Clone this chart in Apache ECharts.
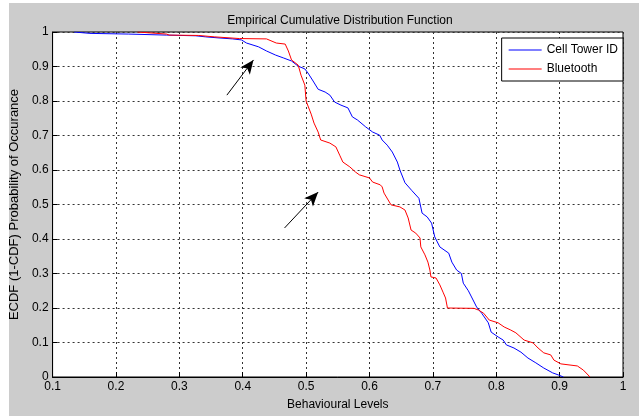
<!DOCTYPE html>
<html lang="en">
<head>
    <meta charset="UTF-8">
    <title>ECDF</title>
    <script type="text/javascript" src="https://cdn.jsdelivr.net/npm/echarts@6/dist/echarts.min.js"></script>
    <style>
        html, body { margin: 0; padding: 0; background: #fff; }
        #chart { width: 639px; height: 416px; }
    </style>
</head>
<body>
<div id="chart"></div>
<script type="text/javascript">
    // Cell Tower ID curve
    var cellX = [0.134, 0.159, 0.22, 0.28, 0.326, 0.341, 0.361, 0.384, 0.398, 0.406, 0.425, 0.4375, 0.452, 0.464,
        0.477, 0.4875, 0.498, 0.503, 0.511, 0.519, 0.530, 0.5375, 0.545, 0.555, 0.566, 0.573, 0.581, 0.594, 0.605,
        0.616, 0.620, 0.628, 0.636, 0.644, 0.648, 0.656, 0.667, 0.678, 0.683, 0.691, 0.698, 0.703, 0.711, 0.725,
        0.730, 0.7375, 0.745, 0.748, 0.756, 0.761, 0.769, 0.777, 0.7875, 0.792, 0.803, 0.811, 0.816, 0.828, 0.839,
        0.85, 0.8625, 0.875, 0.889, 0.898, 0.906];
    var cellY = [1.0, 0.996, 0.994, 0.991, 0.989, 0.986, 0.983, 0.980, 0.977, 0.968, 0.957, 0.945, 0.933, 0.925,
        0.916, 0.901, 0.893, 0.881, 0.858, 0.834, 0.826, 0.817, 0.797, 0.788, 0.780, 0.754, 0.745, 0.725, 0.710,
        0.701, 0.687, 0.672, 0.652, 0.623, 0.600, 0.563, 0.540, 0.518, 0.475, 0.464, 0.446, 0.406, 0.377, 0.359,
        0.333, 0.310, 0.300, 0.272, 0.250, 0.232, 0.203, 0.185, 0.157, 0.130, 0.116, 0.107, 0.093, 0.084, 0.072,
        0.055, 0.041, 0.026, 0.012, 0.006, 0.0];

    // Bluetooth curve
    var btX = [0.234, 0.236, 0.28, 0.284, 0.33, 0.355, 0.395, 0.4375, 0.453, 0.467, 0.472, 0.477, 0.4875, 0.492,
        0.498, 0.5, 0.508, 0.5125, 0.519, 0.523, 0.5375, 0.547, 0.553, 0.558, 0.569, 0.578, 0.584, 0.6, 0.605,
        0.617, 0.62, 0.623, 0.634, 0.648, 0.656, 0.661, 0.6656, 0.673, 0.6797, 0.681, 0.6875, 0.6922, 0.6953,
        0.697, 0.705, 0.711, 0.716, 0.72, 0.723, 0.765, 0.772, 0.78, 0.789, 0.803, 0.8125, 0.823, 0.831, 0.844,
        0.858, 0.866, 0.875, 0.886, 0.891, 0.902, 0.928, 0.9375, 0.948];
    var btY = [1.0, 0.997, 0.994, 0.991, 0.990, 0.986, 0.981, 0.980, 0.968, 0.965, 0.945, 0.919, 0.904, 0.875,
        0.846, 0.800, 0.762, 0.736, 0.710, 0.687, 0.678, 0.667, 0.643, 0.623, 0.609, 0.594, 0.586, 0.577, 0.565,
        0.557, 0.551, 0.533, 0.499, 0.493, 0.484, 0.461, 0.426, 0.417, 0.403, 0.377, 0.354, 0.333, 0.310,
        0.290, 0.287, 0.267, 0.246, 0.229, 0.200, 0.199, 0.194, 0.185, 0.165, 0.157, 0.145, 0.136, 0.128, 0.107,
        0.099, 0.084, 0.070, 0.064, 0.049, 0.038, 0.032, 0.020, 0.0];

    // annotation arrows: [tailX, tailY, tipX, tipY]
    var arrow1 = [0.375, 0.817, 0.417, 0.919];
    var arrow2 = [0.466, 0.432, 0.519, 0.536];

    var fontName = '"Liberation Sans", Arial, sans-serif';

    function pairs(xs, ys) {
        var out = [];
        for (var i = 0; i < xs.length; i++) {
            out.push([xs[i], ys[i]]);
        }
        return out;
    }

    function arrowLine(a) {
        return [{coord: [a[0], a[1]]}, {coord: [a[2], a[3]]}];
    }

    function draw() {
        var mychart = echarts.init(document.getElementById("chart"));
        var option = {
            animation: false,
            textStyle: {fontFamily: fontName, color: '#000'},
            graphic: [{
                type: 'rect',
                z: -10,
                silent: true,
                shape: {x: 9, y: 3, width: 630, height: 413},
                style: {fill: '#cccccc'}
            }],
            title: {
                text: 'Empirical Cumulative Distribution Function',
                left: 335,
                textAlign: 'center',
                top: 10,
                textStyle: {fontSize: 12, fontWeight: 'normal', color: '#000', fontFamily: fontName}
            },
            legend: {
                orient: 'vertical',
                right: 16,
                top: 38,
                backgroundColor: '#fff',
                borderColor: '#000',
                borderWidth: 1,
                borderRadius: 0,
                padding: [6, 5, 6, 7],
                icon: 'rect',
                itemWidth: 33,
                itemHeight: 1,
                itemGap: 7,
                textStyle: {fontSize: 12, color: '#000', fontFamily: fontName},
                data: ['Cell Tower ID', 'Bluetooth']
            },
            grid: {
                left: 47,
                right: 16,
                top: 32,
                bottom: 39,
                show: true,
                backgroundColor: '#fff',
                borderColor: '#000',
                borderWidth: 1
            },
            xAxis: {
                type: 'value',
                min: 0.1,
                max: 1,
                interval: 0.1,
                name: 'Behavioural Levels',
                nameLocation: 'middle',
                nameGap: 22,
                nameTextStyle: {fontSize: 12, color: '#000', fontFamily: fontName},
                axisLine: {lineStyle: {color: '#000'}},
                axisTick: {inside: true, length: 5, lineStyle: {color: '#000'}},
                axisLabel: {fontSize: 12, color: '#000', margin: 4, fontFamily: fontName},
                splitLine: {show: true, lineStyle: {color: '#333', type: [2, 3], width: 1}}
            },
            yAxis: {
                type: 'value',
                min: 0,
                max: 1,
                interval: 0.1,
                name: 'ECDF (1-CDF) Probability of Occurance',
                nameLocation: 'middle',
                nameGap: 29,
                nameTextStyle: {fontSize: 13, color: '#000', fontFamily: fontName},
                axisLine: {show: true, lineStyle: {color: '#000'}},
                axisTick: {show: true, inside: true, length: 5, lineStyle: {color: '#000'}},
                axisLabel: {fontSize: 12, color: '#000', margin: 4, fontFamily: fontName},
                splitLine: {show: true, lineStyle: {color: '#333', type: [2, 3], width: 1}}
            },
            series: [{
                name: 'Cell Tower ID',
                type: 'line',
                symbol: 'none',
                color: '#0000ff',
                lineStyle: {width: 1, color: '#0000ff'},
                data: pairs(cellX, cellY),
                z: 3
            }, {
                name: 'Bluetooth',
                type: 'line',
                symbol: 'none',
                color: '#ff0000',
                lineStyle: {width: 1, color: '#ff0000'},
                data: pairs(btX, btY),
                z: 4,
                markLine: {
                    silent: true,
                    symbol: ['none', 'arrow'],
                    symbolSize: [9, 14],
                    label: {show: false},
                    lineStyle: {color: '#000', width: 1, type: 'solid'},
                    data: [arrowLine(arrow1), arrowLine(arrow2)]
                }
            }]
        };
        mychart.setOption(option);
    }

    draw();
</script>
</body>
</html>
